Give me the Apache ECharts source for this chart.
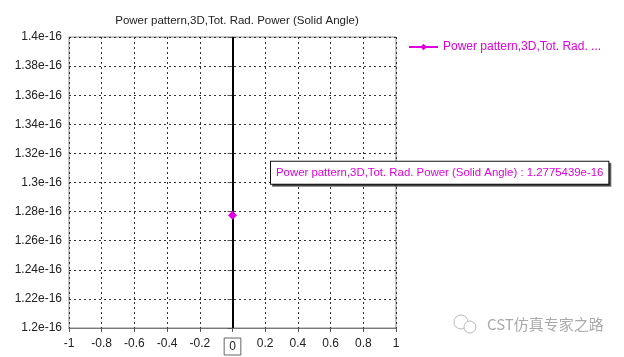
<!DOCTYPE html>
<html>
<head>
<meta charset="utf-8">
<script src="https://cdn.jsdelivr.net/npm/echarts@6/dist/echarts.min.js"></script>
<style>html,body{margin:0;padding:0;background:#fff}#c{width:624px;height:357px}</style>
</head>
<body>
<div id="c"></div>
<script>
var chartTitle = 'Power pattern,3D,Tot. Rad. Power (Solid Angle)';
var seriesName = 'Power pattern,3D,Tot. Rad. Power (Solid Angle)';
var legendLabel = 'Power pattern,3D,Tot. Rad. ...';
var xValues = [0];
var powerValues = [1.2775439e-16];
var yUnit = 1e-16;
var yMin = 1.2, yMax = 1.4, yStep = 0.02;
var xMin = -1, xMax = 1, xStep = 0.2;
var valueText = ['1.2775439e-16'];

var MAG = '#e000e0';
var FONT = 'Liberation Sans';

var seriesData = xValues.map(function (x, i) { return [x, powerValues[i] / yUnit]; });

var chart = echarts.init(document.getElementById('c'));
chart.setOption({
  animation: false,
  backgroundColor: '#fff',
  textStyle: { fontFamily: FONT },
  title: {
    text: chartTitle, left: 232, top: 10, textAlign: 'center',
    textStyle: { fontSize: 11.5, fontWeight: 'normal', color: '#222', fontFamily: FONT }
  },
  legend: {
    left: 408, top: 41, padding: 0, itemWidth: 29, itemHeight: 8, itemGap: 3,
    formatter: function () { return legendLabel; },
    textStyle: { color: MAG, fontSize: 12, fontFamily: FONT }
  },
  grid: { left: 69, right: 228, top: 37, bottom: 29, show: true, borderColor: '#888', borderWidth: 1 },
  xAxis: {
    type: 'value', min: xMin, max: xMax, interval: xStep,
    axisLine: { show: true, onZero: false, lineStyle: { color: '#777' } },
    axisTick: { show: true, length: 4, lineStyle: { color: '#555' } },
    axisLabel: {
      color: '#222', fontSize: 12, margin: 10, fontFamily: FONT,
      formatter: function (v) {
        var r = Math.round(v * 10) / 10;
        if (r === 0) return '{z|0}';
        return String(r);
      },
      rich: { z: { borderColor: '#666', borderWidth: 1, padding: [3, 5, 2, 5], fontSize: 12, color: '#222', fontFamily: FONT } }
    },
    splitLine: { show: true, lineStyle: { color: '#333', type: [2, 3], width: 1 } }
  },
  yAxis: {
    type: 'value', min: yMin, max: yMax, interval: yStep,
    axisLine: { show: true, lineStyle: { color: '#777' } },
    axisTick: { show: true, length: 5, lineStyle: { color: '#555' } },
    axisLabel: {
      color: '#222', fontSize: 12, margin: 7, fontFamily: FONT,
      formatter: function (v) { return parseFloat(v.toFixed(2)) + 'e-16'; }
    },
    splitLine: { show: true, lineStyle: { color: '#333', type: [2, 3], width: 1 } }
  },
  series: [{
    name: seriesName, type: 'line', data: seriesData,
    symbol: 'diamond', symbolSize: 9,
    itemStyle: { color: MAG },
    lineStyle: { color: MAG, width: 1.5 },
    label: {
      show: true, position: [43, -49],
      formatter: function (p) { return seriesName + ' : ' + valueText[p.dataIndex]; },
      color: MAG, fontSize: 11.4, fontFamily: FONT,
      backgroundColor: '#fff', borderColor: '#111', borderWidth: 1,
      padding: [6, 5, 5, 5],
      shadowColor: 'rgba(0,0,0,0.55)', shadowOffsetX: 2, shadowOffsetY: 2, shadowBlur: 0
    },
    markLine: {
      silent: true, symbol: 'none', label: { show: false },
      lineStyle: { color: '#000', width: 2, type: 'solid' },
      data: [{ xAxis: 0 }]
    },
    z: 5
  }],
  graphic: [
    { type: 'circle', shape: { cx: 461, cy: 322, r: 7 }, style: { fill: 'none', stroke: '#bbb', lineWidth: 1 } },
    { type: 'circle', shape: { cx: 470, cy: 327, r: 6 }, style: { fill: '#fff', stroke: '#bbb', lineWidth: 1 } },
    { type: 'text', left: 487, top: 317, style: { text: 'CST仿真专家之路', fill: '#aaa', fontSize: 15, fontFamily: 'Noto Sans CJK SC' } }
  ]
});
</script>
</body>
</html>
